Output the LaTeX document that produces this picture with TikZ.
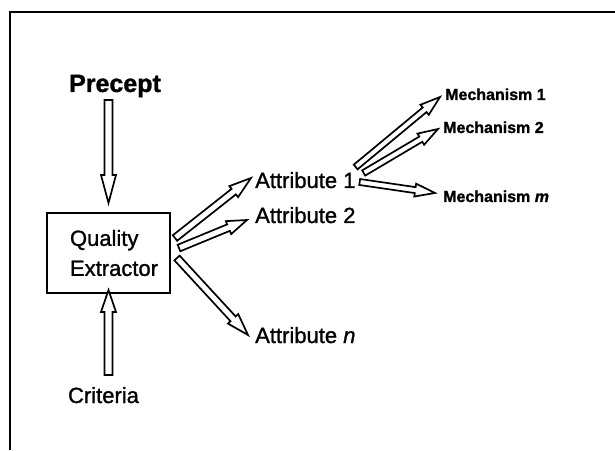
\documentclass[tikz,border=0pt]{standalone}
\usepackage{fontspec}
\setmainfont[FakeBold=1.2]{Liberation Sans}
\usetikzlibrary{calc}
\tikzset{
  txt/.style={inner sep=0pt, font=\fontsize{22}{30}\selectfont},
  bigtxt/.style={inner sep=0pt, font=\fontsize{25}{30}\selectfont\bfseries},
  mech/.style={inner sep=0pt, font=\fontsize{16}{19}\selectfont\bfseries},
  boxnode/.style={draw, line width=2pt, minimum width=123pt, minimum height=80pt,
    align=left, inner sep=0pt, font=\fontsize{22}{30}\selectfont},
  harr/.style={draw, line width=1.7pt, fill=white, line join=miter},
  frameline/.style={line width=2.6pt},
}
% #1 start, #2 tip, #3 shaft half width, #4 head half width, #5 head length
\newcommand\hollowarrow[5]{%
  \coordinate (hs) at (#1);
  \coordinate (ht) at (#2);
  \coordinate (hb) at ($(ht)!#5pt!(hs)$);
  \draw[harr] ($(hs)!#3pt!-90:(ht)$) -- ($(hb)!#3pt!90:(hs)$) -- ($(hb)!#4pt!90:(hs)$)
    -- (ht) -- ($(hb)!#4pt!-90:(hs)$) -- ($(hb)!#3pt!-90:(hs)$)
    -- ($(hs)!#3pt!90:(ht)$) -- cycle;
}
\begin{document}
\begin{tikzpicture}[x=1pt,y=1pt]
\useasboundingbox (0,0) rectangle (615,450);
% frame
\draw[frameline] (10,0) -- (10,438) -- (615,438);
% nodes
\node[bigtxt, anchor=base] (pr) at (115,358) {Precept};
\node[boxnode] (qe) at (108.5,197) {\hspace*{11pt}Quality\\\hspace*{11pt}Extractor};
\node[txt, anchor=base] (cr) at (103.5,47) {Criteria};
\node[txt, anchor=base west] (a1) at (255,262) {Attribute 1};
\node[txt, anchor=base west] (a2) at (255,227) {Attribute 2};
\node[txt, anchor=base west] (an) at (255,107) {Attribute \textit{n}};
\node[mech, anchor=base west] (m1) at (445,350) {Mechanism 1};
\node[mech, anchor=base west] (m2) at (443,317) {Mechanism 2};
\node[mech, anchor=base west] (mm) at (443,248) {Mechanism \textit{m}};
% arrows
\hollowarrow{$(qe.north |- pr.base)+(0,-8)$}{$(qe.north)+(0,9)$}{4}{7.5}{28}
\hollowarrow{$(qe.south |- cr.base)+(0,28)$}{$(qe.south)+(0,4)$}{4}{7.5}{22}
\hollowarrow{$(qe.east)+(4,15)$}{$(a1.base west)+(-4,10)$}{3.5}{7}{22}
\hollowarrow{$(qe.east)+(8,5)$}{$(a2.base west)+(-8,3)$}{3.5}{7}{20}
\hollowarrow{$(qe.east)+(6,-5)$}{$(an.base west)+(-7,8)$}{3.5}{7}{22}
\hollowarrow{$(a1.base east)+(0,21)$}{$(m1.base west)+(-5,3)$}{3}{6.5}{20}
\hollowarrow{$(a1.base east)+(8,15)$}{$(m2.base west)+(-5,4)$}{3}{6.5}{20}
\hollowarrow{$(a1.base east)+(4,6)$}{$(mm.base west)+(-8,9)$}{3}{6.5}{20}
\end{tikzpicture}
\end{document}
